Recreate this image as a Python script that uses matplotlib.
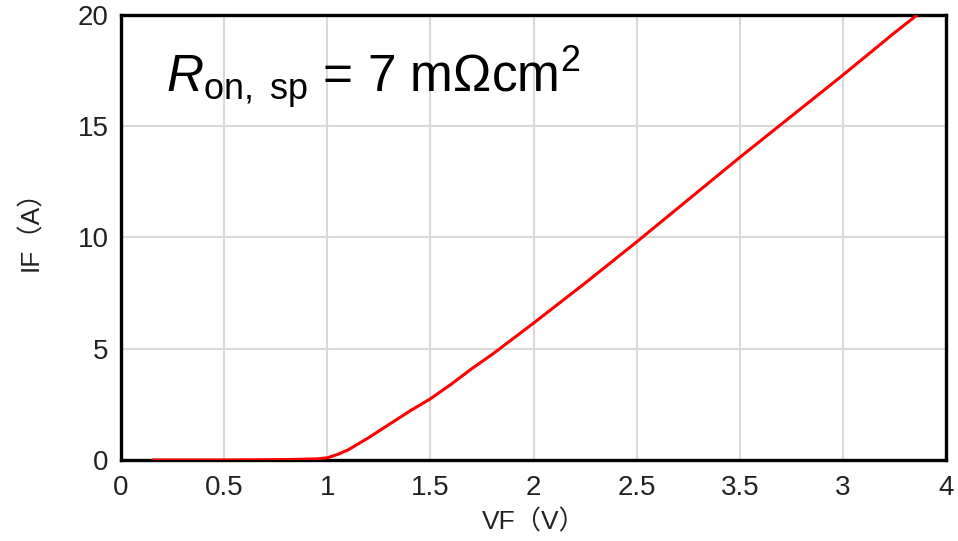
import matplotlib
matplotlib.use("Agg")
import matplotlib.pyplot as plt

vf = [0.15, 0.5, 0.8, 0.95, 1.0, 1.05, 1.1, 1.2, 1.3, 1.4, 1.5, 1.6, 1.7, 1.8, 1.9, 2.0,
      2.25, 2.5, 2.75, 3.0, 3.25, 3.5, 3.75, 3.86]
i_f = [0.0, 0.0, 0.02, 0.05, 0.1, 0.25, 0.45, 1.0, 1.6, 2.2, 2.75, 3.4, 4.1, 4.75, 5.45, 6.15,
       7.95, 9.8, 11.7, 13.6, 15.45, 17.3, 19.2, 20.0]
xticks = [0, 0.5, 1, 1.5, 2, 2.5, 3, 3.5, 4]
xticklabels = ["0", "0.5", "1", "1.5", "2", "2.5", "3.5", "3", "4"]
yticks = [0, 5, 10, 15, 20]
yticklabels = ["0", "5", "10", "15", "20"]

plt.rcParams['font.family'] = ['Liberation Sans', 'Noto Sans CJK JP', 'DejaVu Sans']
plt.rcParams['mathtext.fontset'] = 'custom'
plt.rcParams['mathtext.rm'] = 'Liberation Sans'
plt.rcParams['mathtext.it'] = 'Liberation Sans:italic'

fig = plt.figure(figsize=(9.58, 5.41), dpi=100)
ax = fig.add_axes([0.1263, 0.1497, 0.8612, 0.8226])
ax.plot(vf, i_f, color='#ff0000', lw=2.2, zorder=3, solid_capstyle='butt')
ax.set_xlim(0, 4)
ax.set_ylim(0, 20)
ax.set_xticks(xticks)
ax.set_xticklabels(xticklabels)
ax.set_yticks(yticks)
ax.set_yticklabels(yticklabels)
ax.tick_params(length=0, labelsize=20, colors='#222222')
ax.tick_params(axis='x', pad=11)
ax.tick_params(axis='y', pad=9)
ax.grid(True, color='#d9d9d9', lw=1.5)
ax.set_axisbelow(True)
for s in ax.spines.values():
    s.set_linewidth(2.4)
    s.set_color('black')
ax.set_xlabel("VF（V）", fontsize=19, color='#222222', labelpad=6)
ax.set_ylabel("IF（A）", fontsize=19, color='#222222', labelpad=18)
ax.yaxis.set_label_coords(-0.095, 0.53)
ax.text(0.22, 16.5, r"$R_{\mathrm{on,\ sp}}$ = 7 mΩcm$^2$", fontsize=37,
        ha='left', va='baseline', color='black')
fig.savefig("out.png", dpi=100, facecolor='white')
